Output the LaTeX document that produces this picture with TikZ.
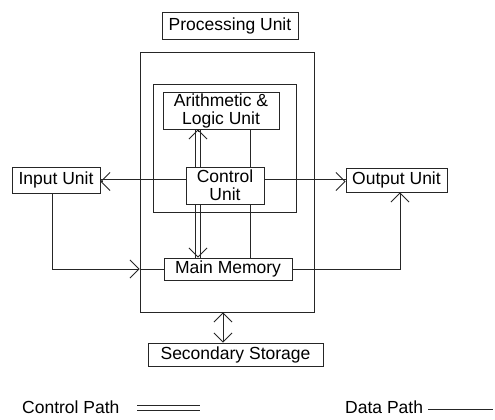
\documentclass[tikz,border=0pt]{standalone}
\usepackage{fontspec}
\setmainfont{Liberation Sans}
\usetikzlibrary{arrows.meta}
\pgfdeclarelayer{bg}
\pgfsetlayers{bg,main}
\begin{document}
\begin{tikzpicture}[x=1pt,y=-1pt,
  >={Straight Barb[length=9pt,width=18pt]},
  every node/.style={font=\fontsize{17.5}{18}\selectfont, inner sep=0pt},
  box/.style={draw=black!85, line width=0.9pt, fill=white},
  frame/.style={draw=black!85, line width=0.9pt},
  dataline/.style={draw=black!85, line width=0.9pt},
  ctrlline/.style={draw=black!85, line width=0.9pt, double=white, double distance=4pt},
]
\useasboundingbox (0,0) rectangle (495,420);
% nodes
\node[box, minimum width=136pt, minimum height=27pt] (pu) at (230,25.5) {Processing Unit};
\node[frame, minimum width=174pt, minimum height=260pt] (proc) at (227,182) {};
\node[frame, minimum width=143pt, minimum height=128pt] (inner) at (224.5,148) {};
\node[box, minimum width=116pt, minimum height=37pt, align=center] (alu) at (221,110.5) {Arithmetic \&\\Logic Unit};
\node[box, minimum width=78pt, minimum height=37pt, align=center] (ctrl) at (225,185.5) {Control\\Unit};
\node[box, minimum width=88pt, minimum height=26pt] (in) at (56,180) {Input Unit};
\node[box, minimum width=101pt, minimum height=24pt] (out) at (396.5,180) {Output Unit};
\node[box, minimum width=128pt, minimum height=22pt] (mm) at (228,269) {Main Memory};
\node[box, minimum width=175pt, minimum height=23pt] (ss) at (235.5,354.5) {Secondary Storage};
% helper coordinates
\coordinate (hy) at (0,181.5);
\coordinate (vx) at (198,0);
\coordinate (dx) at (250,0);
\coordinate (ox) at (400,0);
\coordinate (ix) at (52,0);
\coordinate (sx) at (223,0);
\coordinate (ma) at (proc.west |- mm.west);
\begin{pgfonlayer}{bg}
  \fill[white] (0,0) rectangle (495,420);
  % control paths
  \draw[ctrlline] (ctrl.west |- hy) -- (in.east |- hy);
  \draw[ctrlline] (ctrl.east |- hy) -- (out.west |- hy);
  \draw[ctrlline] (ctrl.north -| vx) -- (alu.south -| vx);
  \draw[ctrlline] (ctrl.south -| vx) -- (mm.north -| vx);
  % data paths
  \draw[dataline] (alu.south -| dx) -- (ctrl.north -| dx);
  \draw[dataline] (ctrl.south -| dx) -- (mm.north -| dx);
  \draw[dataline, ->] (in.south -| ix) |- (ma);
  \draw[dataline] (ma) -- (mm.west);
  \draw[dataline, ->] (mm.east) -| (out.south -| ox);
  \draw[dataline, <->] (proc.south -| sx) -- (ss.north -| sx);
\end{pgfonlayer}
% arrow tips of the control paths
\draw[dataline, ->] ([xshift=2pt]in.east |- hy) -- (in.east |- hy);
\draw[dataline, ->] ([xshift=-2pt]out.west |- hy) -- (out.west |- hy);
\draw[dataline, ->] ([yshift=-2pt]alu.south -| vx) -- (alu.south -| vx);
\draw[dataline, ->] ([yshift=2pt]mm.north -| vx) -- (mm.north -| vx);
% legend
\node[anchor=west] (lc) at (22,407) {Control Path};
\coordinate (lc1) at (137,408);
\coordinate (lc2) at (200,408);
\draw[ctrlline] (lc1) -- (lc2);
\node[anchor=west] (ld) at (345,407) {Data Path};
\coordinate (ld1) at (428,409);
\coordinate (ld2) at (493,409);
\draw[dataline] (ld1) -- (ld2);
\end{tikzpicture}
\end{document}
